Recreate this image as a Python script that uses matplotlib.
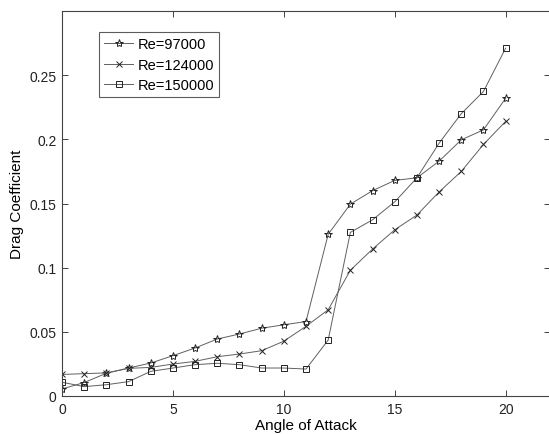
import matplotlib
matplotlib.use("Agg")
import matplotlib.pyplot as plt

plt.rcParams['font.family'] = ['Liberation Sans', 'DejaVu Sans']

angle = [0, 1, 2, 3, 4, 5, 6, 7, 8, 9, 10, 11, 12, 13, 14, 15, 16, 17, 18, 19, 20]

cd_97000 = [0.0055, 0.0105, 0.0177, 0.0218, 0.0257, 0.0314, 0.0374, 0.0444, 0.0483,
            0.0528, 0.0555, 0.0580, 0.1260, 0.1495, 0.1600, 0.1680, 0.1700, 0.1830,
            0.1996, 0.2074, 0.2320]
cd_124000 = [0.0168, 0.0174, 0.0180, 0.0215, 0.0223, 0.0249, 0.0270, 0.0306, 0.0327,
             0.0353, 0.0427, 0.0543, 0.0672, 0.0980, 0.1145, 0.1295, 0.1410, 0.1590,
             0.1750, 0.1960, 0.2140]
cd_150000 = [0.0107, 0.0073, 0.0088, 0.0112, 0.0192, 0.0218, 0.0244, 0.0255, 0.0244,
             0.0218, 0.0218, 0.0210, 0.0436, 0.1275, 0.1373, 0.1513, 0.1700, 0.1970,
             0.2200, 0.2373, 0.2710]

labels = ['Re=97000', 'Re=124000', 'Re=150000']
markers = ['*', 'x', 's']
marker_sizes = [6, 4.5, 5]

fig = plt.figure(figsize=(5.49, 4.35), dpi=100)
ax = fig.add_axes([62 / 549, 38 / 435, 488 / 549, 385 / 435])

line_color = '#606060'
for y, lab, m, ms in zip([cd_97000, cd_124000, cd_150000], labels, markers, marker_sizes):
    ax.plot(angle, y, color=line_color, linewidth=0.7, marker=m, markersize=ms,
            markerfacecolor='none', markeredgecolor='#222222', markeredgewidth=0.7,
            label=lab)

ax.set_xlim(0, 22)
ax.set_ylim(0, 0.3)
ax.set_xticks([0, 5, 10, 15, 20])
ax.set_xticklabels(['0', '5', '10', '15', '20'])
ax.set_yticks([0, 0.05, 0.1, 0.15, 0.2, 0.25])
ax.set_yticklabels(['0', '0.05', '0.1', '0.15', '0.2', '0.25'])
ax.tick_params(direction='in', top=True, right=True, length=4, width=0.6,
               labelsize=10, colors='#222222', pad=4)
for s in ax.spines.values():
    s.set_color('#444444')
    s.set_linewidth(0.8)

ax.set_xlabel('Angle of Attack', fontsize=11, labelpad=2)
ax.set_ylabel('Drag Coefficient', fontsize=11, labelpad=4)

leg = ax.legend(loc='upper left', bbox_to_anchor=(99 / 549, 1 - 33 / 435),
                bbox_transform=fig.transFigure, fontsize=10.5, frameon=True,
                fancybox=False, edgecolor='#333333', handlelength=2.0,
                handletextpad=0.3, labelspacing=0.45, borderpad=0.35,
                borderaxespad=0)
leg.get_frame().set_linewidth(0.8)

fig.savefig('out.png', dpi=100)
